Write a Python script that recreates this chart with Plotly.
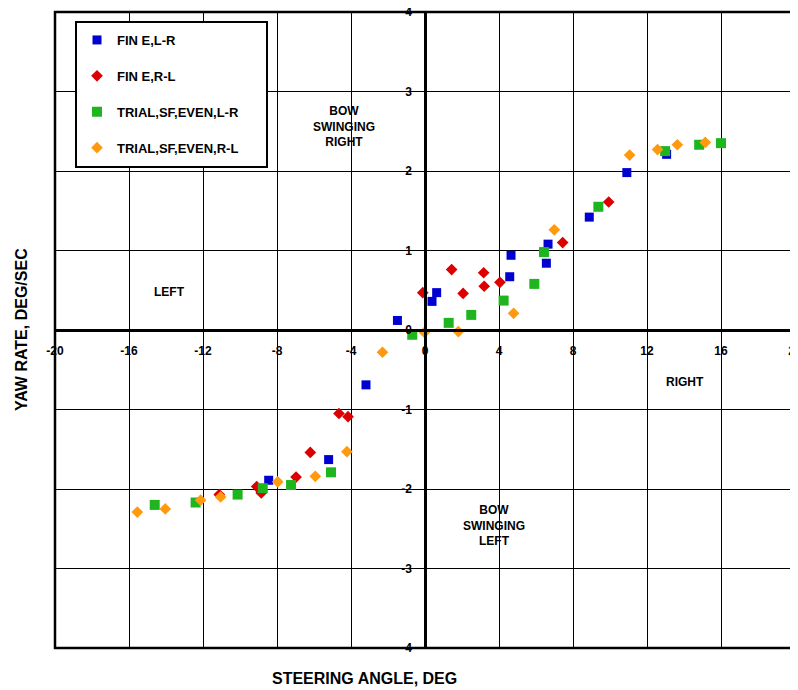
import plotly.graph_objects as go

# ---- data ----
fin_lr_x = [-8.45, -5.21, -3.19, -1.49, 0.38, 0.63, 4.58, 4.65, 6.56, 6.65, 8.88, 10.91, 13.06]
fin_lr_y = [-1.89, -1.63, -0.69, 0.12, 0.36, 0.47, 0.67, 0.94, 0.84, 1.08, 1.42, 1.98, 2.21]

fin_rl_x = [-11.12, -9.10, -8.85, -6.97, -6.20, -4.65, -4.16, -0.12, 1.44, 2.06, 3.17, 3.20, 4.05, 7.44, 9.93]
fin_rl_y = [-2.07, -1.97, -2.05, -1.85, -1.54, -1.05, -1.09, 0.47, 0.76, 0.46, 0.72, 0.55, 0.60, 1.10, 1.61]

trial_lr_x = [-14.61, -12.40, -10.13, -8.77, -7.24, -5.08, -0.69, 1.28, 2.50, 4.25, 5.91, 6.43, 9.37, 12.98, 14.82, 16.00]
trial_lr_y = [-2.20, -2.17, -2.07, -1.99, -1.95, -1.79, -0.06, 0.09, 0.19, 0.37, 0.58, 0.98, 1.55, 2.25, 2.33, 2.35]

trial_rl_x = [-15.55, -14.04, -12.13, -11.05, -7.96, -5.93, -4.22, -2.30, -0.03, 1.80, 4.79, 6.99, 11.06, 12.57, 13.64, 15.15]
trial_rl_y = [-2.29, -2.25, -2.14, -2.10, -1.91, -1.84, -1.53, -0.28, -0.03, -0.02, 0.21, 1.26, 2.20, 2.27, 2.33, 2.36]

series_names = ["FIN E,L-R", "FIN E,R-L", "TRIAL,SF,EVEN,L-R", "TRIAL,SF,EVEN,R-L"]
x_ticks = [-20, -16, -12, -8, -4, 0, 4, 8, 12, 16, 20]
y_ticks = [-4, -3, -2, -1, 0, 1, 2, 3, 4]

region_labels = ["BOW<br>SWINGING<br>RIGHT", "BOW<br>SWINGING<br>LEFT", "LEFT", "RIGHT"]
region_x = [-4.38, 3.73, -13.8, 14.04]
region_y = [2.56, -2.46, 0.475, -0.66]

FONT = "Liberation Sans, Arial, sans-serif"

# page has an 8px body margin: figure coords = page coords - 8
OFF = 8
W, H = 790, 682
L, R, T, B = 55 - OFF, 3, 12 - OFF, 42
PW, PH = W - L - R, H - T - B


def px_x(p):  # page x pixel -> paper fraction
    return (p - 55) / PW


def px_y(p):  # page y pixel -> paper fraction
    return (648 - p) / PH


styles = [
    dict(color="#0000D0", symbol="square", size=9),
    dict(color="#DD0000", symbol="diamond", size=9),
    dict(color="#1FB51F", symbol="square", size=10),
    dict(color="#FF9A10", symbol="diamond", size=9),
]
xs = [fin_lr_x, fin_rl_x, trial_lr_x, trial_rl_x]
ys = [fin_lr_y, fin_rl_y, trial_lr_y, trial_rl_y]

fig = go.Figure()
for i in range(4):
    fig.add_trace(go.Scatter(
        x=xs[i], y=ys[i], mode="markers", name=series_names[i],
        legendgroup=str(i),
        marker=dict(color=styles[i]["color"], symbol=styles[i]["symbol"],
                    size=styles[i]["size"], line=dict(width=0)),
    ))

for t, ax, ay in zip(region_labels, region_x, region_y):
    fig.add_annotation(x=ax, y=ay, text=t, showarrow=False,
                       font=dict(family=FONT, size=12, color="black", weight="bold"))

# axis titles
fig.add_annotation(xref="paper", yref="paper", x=px_x(364), y=px_y(678),
                   text="STEERING ANGLE, DEG", showarrow=False, yanchor="middle",
                   font=dict(family=FONT, size=16, color="black", weight="bold"))
fig.add_annotation(xref="paper", yref="paper", x=px_x(21), y=0.5, textangle=-90,
                   text="YAW RATE, DEG/SEC", showarrow=False, xanchor="center",
                   font=dict(family=FONT, size=16, color="black", weight="bold"))

# legend frame
fig.add_shape(type="rect", xref="paper", yref="paper",
              x0=px_x(76), x1=px_x(267), y0=px_y(167), y1=px_y(22),
              line=dict(color="black", width=2), fillcolor="white", layer="above")

# plot border
fig.add_shape(type="rect", xref="paper", yref="paper", x0=0, y0=0, x1=1, y1=1,
              line=dict(color="black", width=2.5), layer="above")

axis_common = dict(
    showgrid=True, gridcolor="black", gridwidth=1,
    zeroline=False, showline=True, linecolor="black", linewidth=2.5,
    anchor="free", position=0.5, automargin=False,
    ticks="outside", ticklen=5, tickcolor="black", tickwidth=1,
    ticklabeloverflow="allow",
    tickfont=dict(family=FONT, size=12, color="black", weight="bold"),
)

fig.update_layout(
    width=W, height=H,
    margin=dict(l=L, r=R, t=T, b=B, autoexpand=False),
    paper_bgcolor="white", plot_bgcolor="white",
    font=dict(family=FONT, color="black"),
    showlegend=True,
    legend=dict(x=px_x(77), y=px_y(25), xanchor="left", yanchor="top",
                bgcolor="rgba(0,0,0,0)", borderwidth=0,
                font=dict(family=FONT, size=13, color="black", weight="bold"),
                tracegroupgap=16,
                itemclick=False),
    xaxis=dict(range=[-20, 20], tickvals=x_ticks, ticktext=[str(v) for v in x_ticks],
               ticklabelstandoff=4, **axis_common),
    yaxis=dict(range=[-4, 4], tickvals=y_ticks, ticktext=[str(v) for v in y_ticks],
               ticklabelstandoff=5, **axis_common),
)

fig.write_html("out.html")
